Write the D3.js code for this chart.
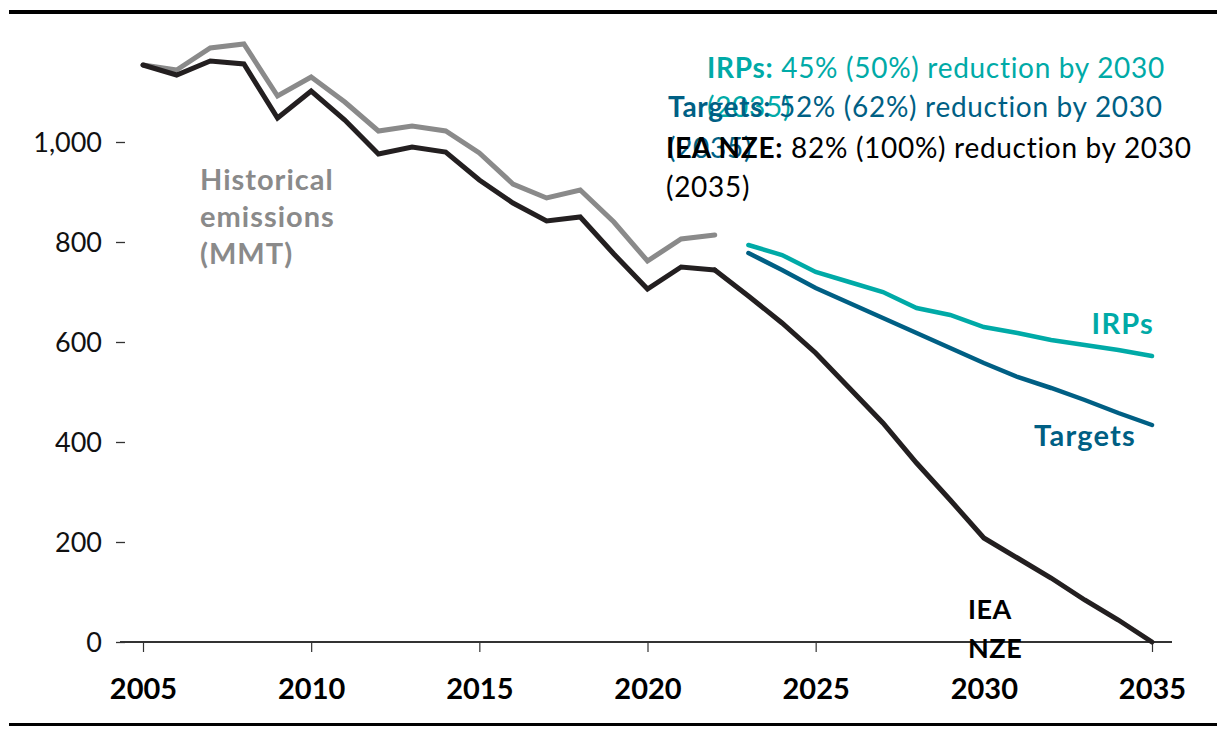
<!DOCTYPE html>
<html><head><meta charset="utf-8">
<script src="https://cdn.jsdelivr.net/npm/d3@7/dist/d3.min.js"></script>
<style>
body{margin:0;background:#fff;}
svg{display:block;font-family:Lato,"Open Sans",sans-serif;}
</style></head><body>
<svg id="c" width="1220" height="736"></svg>
<script>
const histYears = d3.range(2005, 2023);
const histGross = [1154,1144,1188,1196,1092,1130,1080,1022,1032,1022,978,916,888,904,840,762,806,814];
const histNet   = [1154,1134,1162,1156,1048,1102,1044,976,990,980,924,878,842,850,776,706,750,744];
const projYears = d3.range(2022, 2036);
const nze     = [744,692,638,578,508,438,358,284,208,168,128,84,44,0];
const irpYears = d3.range(2023, 2036);
const irps    = [794,774,740,720,700,668,654,630,618,604,594,584,572];
const targets = [778,744,708,678,648,618,588,558,530,508,484,458,434];
const xTicks = [2005,2010,2015,2020,2025,2030,2035];
const yTicks = [0,200,400,600,800,1000];

const C = {grey:"#8a8a8a", black:"#231f20", teal:"#00aaa7", blue:"#005f84", axis:"#333"};

const svg = d3.select("#c");
const x = d3.scaleLinear().domain([2005,2035]).range([143,1152]);
const y = d3.scaleLinear().domain([0,1000]).range([642,142]);

// frame rules
svg.append("rect").attr("x",9).attr("y",10).attr("width",1208).attr("height",4).attr("fill","#000");
svg.append("rect").attr("x",9).attr("y",723).attr("width",1208).attr("height",3).attr("fill","#000");

// y axis
const ya = svg.append("g").attr("transform","translate(125,0)")
  .call(d3.axisLeft(y).tickValues(yTicks).tickFormat(d3.format(",")).tickSize(9).tickPadding(14));
ya.select(".domain").remove();
ya.selectAll("line").attr("stroke",C.axis).attr("stroke-width",1.3);
ya.selectAll("text").attr("font-family","Lato").attr("font-size",27).attr("fill","#111").attr("dy","0.36em");

// x axis
const xa = svg.append("g").attr("transform","translate(0,642)")
  .call(d3.axisBottom(x).tickValues(xTicks).tickFormat(d3.format("d")).tickSize(10).tickSizeOuter(0));
xa.select(".domain").remove();
xa.selectAll("line").attr("stroke",C.axis).attr("stroke-width",1.2);
xa.selectAll("text").attr("font-family","Lato").attr("font-weight","bold").attr("font-size",29)
  .attr("fill","#000").attr("y",57).attr("dy",0);
svg.append("line").attr("x1",120).attr("x2",1172).attr("y1",642).attr("y2",642)
  .attr("stroke",C.axis).attr("stroke-width",2.2);

const line = d3.line().x(d=>x(d[0])).y(d=>y(d[1]));
function draw(years, vals, color, w){
  svg.append("path").datum(years.map((yr,i)=>[yr,vals[i]]))
    .attr("d",line).attr("fill","none").attr("stroke",color).attr("stroke-width",w)
    .attr("stroke-linejoin","miter").attr("stroke-linecap","round");
}
draw(histYears, histGross, C.grey, 5);
draw(histYears, histNet, C.black, 5);
draw(projYears, nze, C.black, 5);
draw(irpYears, irps, C.teal, 4.5);
draw(irpYears, targets, C.blue, 4.5);

// labels
function txt(xp, yp, parts, size, anchor, ls){
  const t = svg.append("text").attr("x",xp).attr("y",yp).attr("font-size",size)
    .attr("text-anchor",anchor||"start").attr("letter-spacing",ls||0);
  parts.forEach(p=>t.append("tspan").attr("font-weight",p.b?"bold":"normal").attr("fill",p.c).text(p.t));
  return t;
}
const fs = 28, ls = 0.7;
txt(200,190,[{t:"Historical",b:1,c:C.grey}],29,"start",1);
txt(200,227,[{t:"emissions",b:1,c:C.grey}],29,"start",1);
txt(200,264,[{t:"(MMT)",b:1,c:C.grey}],29,"start",1);

txt(707,78,[{t:"IRPs:",b:1,c:C.teal},{t:" 45% (50%) reduction by 2030",c:C.teal}],fs,"start",ls);
txt(707,117,[{t:"(2035)",c:C.teal}],fs,"start",ls);
txt(668,117,[{t:"Targets:",b:1,c:C.blue},{t:" 52% (62%) reduction by 2030",c:C.blue}],fs,"start",ls);
txt(668,158,[{t:"(2035)",c:C.blue}],fs,"start",ls);
txt(666,158,[{t:"IEA NZE:",b:1,c:"#000"},{t:" 82% (100%) reduction by 2030",c:"#000"}],fs,"start",ls);
txt(666,197,[{t:"(2035)",c:"#000"}],fs,"start",ls);

txt(1154,334,[{t:"IRPs",b:1,c:C.teal}],29,"end",1.2);
txt(1136,446,[{t:"Targets",b:1,c:C.blue}],29,"end",1.2);
txt(968,619,[{t:"IEA",b:1,c:"#000"}],27,"start",0.5);
txt(968,658,[{t:"NZE",b:1,c:"#000"}],27,"start",0.5);
</script></body></html>
